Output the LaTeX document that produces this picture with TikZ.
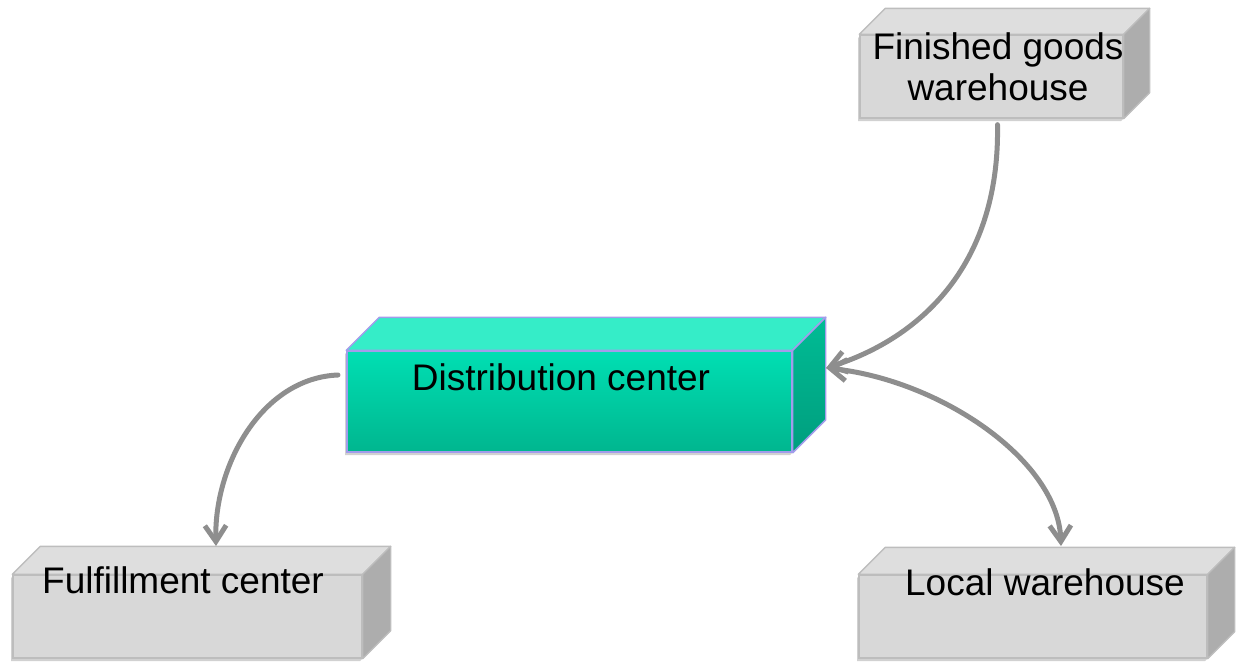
\documentclass[tikz,border=0pt]{standalone}
\usepackage{fontspec}
\setmainfont{Liberation Sans}
\usetikzlibrary{arrows.meta,fit,calc}

\definecolor{linkgray}{HTML}{8E8E8E}
\definecolor{grayfront}{HTML}{D8D8D8}
\definecolor{graytop}{HTML}{DEDEDE}
\definecolor{grayside}{HTML}{ADADAD}
\definecolor{grayedge}{HTML}{BDBDBD}
\definecolor{tealfronttop}{HTML}{00DFB3}
\definecolor{tealfrontbot}{HTML}{00B68F}
\definecolor{tealtop}{HTML}{35EDC8}
\definecolor{tealsidetop}{HTML}{00BC95}
\definecolor{tealsidebot}{HTML}{009E7E}
\definecolor{tealedge}{HTML}{A29CEB}

% A box in oblique view: front face (a fitted node), top face and right face.
% #1 name, #2 front north-west corner, #3 front south-east corner,
% #4 depth, #5 palette (gray or teal)
\newcommand\crate[5]{%
  \path #2 coordinate (#1-nw) #3 coordinate (#1-se);
  \fill[crate shadow]
    ($(#1-nw)+(-2,3)$) -- ($(#1-nw |- #1-se)+(-2,3)$) -- ($(#1-se)+(-2,3)$)
    -- ($(#1-se)+(#4-2,3-#4)$) -- ($(#1-se |- #1-nw)+(#4-2,3-#4)$)
    -- ($(#1-nw)+(#4-2,3-#4)$) -- cycle;
  \node[fit=(#1-nw)(#1-se), inner sep=0pt, #5 front] (#1) {};
  \filldraw[#5 top] (#1.north west) -- ($(#1.north west)+(#4,-#4)$)
    -- ($(#1.north east)+(#4,-#4)$) -- (#1.north east) -- cycle;
  \filldraw[#5 side] (#1.north east) -- ($(#1.north east)+(#4,-#4)$)
    -- ($(#1.south east)+(#4,-#4)$) -- (#1.south east) -- cycle;
}

\begin{document}
\begin{tikzpicture}[x=0.75pt,y=-0.75pt,
  crate shadow/.style={fill=black, opacity=0.18},
  gray front/.style={fill=grayfront, draw=grayedge, line width=1pt},
  gray top/.style={fill=graytop, draw=grayedge, line width=1pt, line join=round},
  gray side/.style={fill=grayside, draw=grayedge, line width=1pt, line join=round},
  teal front/.style={top color=tealfronttop, bottom color=tealfrontbot,
    draw=tealedge, line width=1.1pt},
  teal top/.style={fill=tealtop, draw=tealedge, line width=1.1pt, line join=round},
  teal side/.style={top color=tealsidetop, bottom color=tealsidebot,
    draw=tealedge, line width=1.1pt, line join=round},
  boxtext/.style={font=\fontsize{27.75}{30.75}\selectfont, inner sep=0pt,
    text=black, anchor=base},
  link/.style={draw=linkgray, line width=3.75pt, line cap=round,
    >={Straight Barb[length=12pt,width=16pt]}},
]
\useasboundingbox (0,0) rectangle (1243,662);

% boxes
\crate{fg}{(860,35)}{(1123,118)}{26}{gray}
\crate{dc}{(347,351)}{(792,452)}{33}{teal}
\crate{ff}{(13,575)}{(362,658)}{28}{gray}
\crate{lw}{(859,575)}{(1207,658)}{27}{gray}

% labels (a two-line label sits on the baseline of its last line)
\node[boxtext, align=center] (fg-text) at (998,100) {Finished goods\\warehouse};
\node[boxtext] (dc-text) at (561,390) {Distribution center};
\node[boxtext] (ff-text) at (183,593) {Fulfillment center};
\node[boxtext] (lw-text) at (1045,595) {Local warehouse};

% connector ends
\coordinate (fg-out) at ($(fg.south)+(6,6)$);
\coordinate (dc-right) at (826,368);
\coordinate (dc-left) at (338,375);
\coordinate (ff-top) at (216,546);
\coordinate (lw-top) at (1061,546);

% flows
\draw[link, ->] (fg-out) .. controls (1000,270) and (915,340) .. (dc-right);
\draw[link, <->] (dc-right) .. controls (940,380) and (1058,460) .. (lw-top);
\draw[link, ->] (dc-left) .. controls (262,378) and (214,465) .. (ff-top);
\end{tikzpicture}
\end{document}
